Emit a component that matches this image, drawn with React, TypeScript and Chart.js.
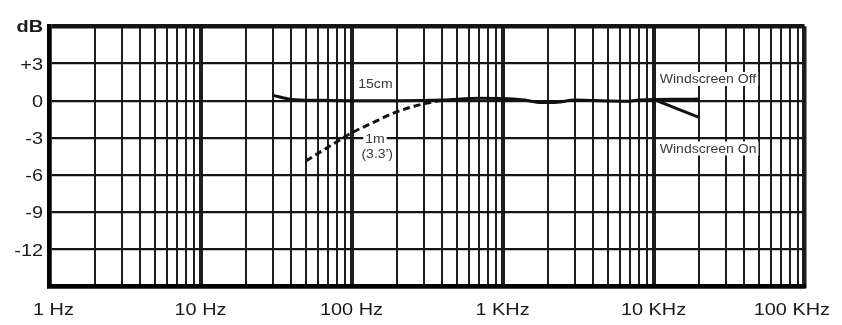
import React, { useEffect, useRef } from "react";
import { Chart, registerables } from "chart.js";

Chart.register(...registerables);

// Frequency grid: multiples within each decade
const DECADES = [1, 10, 100, 1000, 10000];
const MULTIPLES = [1, 2, 3, 4, 5, 6, 7, 8, 9];
const X_MIN = 1;
const X_MAX = 100000;

// Axis labels
const X_LABEL_VALUES = [1, 10, 100, 1000, 10000, 100000];
const X_LABELS = ["1 Hz", "10 Hz", "100 Hz", "1 KHz", "10 KHz", "100 KHz"];
const Y_MIN = -15;
const Y_MAX = 6;
const Y_STEP = 3;
const Y_LABEL_VALUES = [6, 3, 0, -3, -6, -9, -12];
const Y_LABELS = ["dB", "+3", "0", "-3", "-6", "-9", "-12"];

// 15cm response (Windscreen Off)
const NEAR_FREQ = [30, 40, 60, 100, 200, 400, 700, 1000, 1400, 1800, 2300, 3000, 4000, 5000, 6500, 8000, 10000, 15000, 20000];
const NEAR_DB = [0.45, 0.1, 0.03, 0.0, 0.0, 0.05, 0.2, 0.18, 0.05, -0.15, -0.12, 0.05, 0.02, -0.02, -0.05, 0.05, 0.1, 0.12, 0.13];

// Windscreen On branch
const ON_FREQ = [10000, 20000];
const ON_DB = [0.1, -1.35];

// 1m (3.3') response
const FAR_FREQ = [50, 70, 100, 140, 190, 260, 350, 420];
const FAR_DB = [-4.85, -3.75, -2.6, -1.75, -1.0, -0.45, -0.08, 0.05];

// Annotations
const NOTES = [
  { text: "15cm", f: 144, db: 1.35, align: "center" },
  { text: "1m", f: 143, db: -3.1, align: "center" },
  { text: "(3.3')", f: 148, db: -4.3, align: "center" },
  { text: "Windscreen Off", f: 11000, db: 1.75, align: "left" },
  { text: "Windscreen On", f: 11000, db: -3.85, align: "left" },
];

const SX = 1.17;
const FONT = "'Liberation Sans', Arial, sans-serif";

function drawStretched(ctx: CanvasRenderingContext2D, text: string, x: number, y: number, align: CanvasTextAlign) {
  ctx.save();
  ctx.translate(x, y);
  ctx.scale(SX, 1);
  ctx.textAlign = align;
  ctx.textBaseline = "alphabetic";
  ctx.fillText(text, 0, 0);
  ctx.restore();
}

const labelsPlugin = {
  id: "customLabels",
  beforeDatasetsDraw(chart: any) {
    const { ctx, scales } = chart;
    const x = scales.x;
    const y = scales.y;
    ctx.save();
    ctx.font = `12px ${FONT}`;
    NOTES.forEach((n) => {
      const w = ctx.measureText(n.text).width * SX;
      const px = x.getPixelForValue(n.f);
      const py = y.getPixelForValue(n.db);
      const left = n.align === "center" ? px - w / 2 : px;
      ctx.fillStyle = "#ffffff";
      ctx.fillRect(left - 2, py - 7, w + 4, 14);
      ctx.fillStyle = "#3a3a3a";
      drawStretched(ctx, n.text, left, py + 4.3, "left");
    });
    ctx.restore();
  },
  afterDraw(chart: any) {
    const { ctx, scales, chartArea, width } = chart;
    const x = scales.x;
    const y = scales.y;
    ctx.save();
    ctx.fillStyle = "#1a1a1a";
    // y labels
    Y_LABEL_VALUES.forEach((v, i) => {
      ctx.font = i === 0 ? `bold 17px ${FONT}` : `17px ${FONT}`;
      const py = y.getPixelForValue(v);
      drawStretched(ctx, Y_LABELS[i], chartArea.left - 6.5, py + 6, "right");
    });
    // x labels
    ctx.font = `17px ${FONT}`;
    X_LABEL_VALUES.forEach((v, i) => {
      const w = ctx.measureText(X_LABELS[i]).width * SX;
      let cx = x.getPixelForValue(v);
      cx = Math.max(cx, chartArea.left - 16.5 + w / 2);
      cx = Math.min(cx, width - 4 - w / 2);
      drawStretched(ctx, X_LABELS[i], cx, chartArea.bottom + 28.3, "center");
    });
    ctx.restore();
  },
};

export default function App() {
  const ref = useRef<HTMLCanvasElement | null>(null);

  useEffect(() => {
    if (!ref.current) return;
    const gridValues: number[] = [];
    DECADES.forEach((d) => MULTIPLES.forEach((m) => gridValues.push(d * m)));
    gridValues.push(X_MAX);

    const chart = new Chart(ref.current, {
      type: "line",
      data: {
        datasets: [
          {
            label: "15cm",
            data: NEAR_FREQ.map((f, i) => ({ x: f, y: NEAR_DB[i] })),
            borderColor: "#111111",
            borderWidth: 3,
            pointRadius: 0,
            cubicInterpolationMode: "monotone",
            fill: false,
          },
          {
            label: "Windscreen On",
            data: ON_FREQ.map((f, i) => ({ x: f, y: ON_DB[i] })),
            borderColor: "#111111",
            borderWidth: 3,
            pointRadius: 0,
            fill: false,
          },
          {
            label: "1m",
            data: FAR_FREQ.map((f, i) => ({ x: f, y: FAR_DB[i] })),
            borderColor: "#111111",
            borderWidth: 3,
            borderDash: [7, 4],
            pointRadius: 0,
            cubicInterpolationMode: "monotone",
            fill: false,
          },
        ],
      },
      options: {
        animation: false,
        responsive: false,
        devicePixelRatio: 1,
        layout: { padding: { top: 18.3, right: 29.5, left: 0, bottom: 0 } },
        plugins: { legend: { display: false }, tooltip: { enabled: false } },
        scales: {
          x: {
            type: "logarithmic",
            min: X_MIN,
            max: X_MAX,
            afterBuildTicks: (scale: any) => {
              scale.ticks = gridValues.map((v) => ({ value: v }));
            },
            afterFit: (scale: any) => {
              scale.height = 30.3;
            },
            ticks: { display: false, autoSkip: false },
            grid: {
              drawTicks: false,
              color: "#1e1e1e",
              lineWidth: (c: any) => {
                const v = c.tick ? c.tick.value : 0;
                if (v === X_MAX || v === X_MIN) return 4.5;
                if (X_LABEL_VALUES.includes(v)) return 4;
                return 2;
              },
            },
            border: { display: true, width: 4.5, color: "#000000" },
          },
          y: {
            min: Y_MIN,
            max: Y_MAX,
            ticks: { display: false, stepSize: Y_STEP },
            afterFit: (scale: any) => {
              scale.width = 41.5;
            },
            grid: {
              drawTicks: false,
              color: "#151515",
              lineWidth: (c: any) => {
                const v = c.tick ? c.tick.value : 0;
                if (v === Y_MAX || v === Y_MIN) return 4.5;
                return 2.2;
              },
            },
            border: { display: true, width: 4.5, color: "#000000" },
          },
        },
      },
      plugins: [labelsPlugin],
    } as any);
    return () => chart.destroy();
  }, []);

  return (
    <div style={{ width: 826, height: 309 }}>
      <canvas ref={ref} width={826} height={309} style={{ display: "block" }} />
    </div>
  );
}
